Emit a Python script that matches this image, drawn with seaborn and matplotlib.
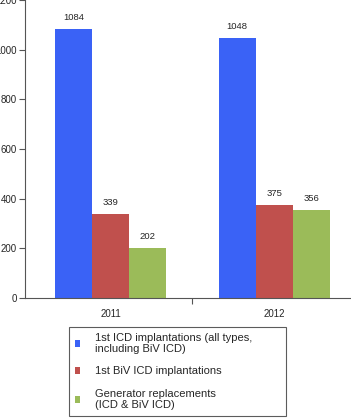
import matplotlib
matplotlib.use('Agg')
import matplotlib.pyplot as plt
import seaborn as sns
import pandas as pd

years = ['2011', '2012']
series = ['1st ICD implantations (all types,\nincluding BiV ICD)',
          '1st BiV ICD implantations',
          'Generator replacements\n(ICD & BiV ICD)']
icd_first = [1084, 1048]
biv_first = [339, 375]
gen_repl = [202, 356]
colors = ['#3a62f6', '#c0504d', '#9bbb59']

df = pd.DataFrame({
    'year': years * 3,
    'series': [series[0]] * 2 + [series[1]] * 2 + [series[2]] * 2,
    'value': icd_first + biv_first + gen_repl,
})

sns.set_style('white')
plt.rcParams['font.family'] = ['Liberation Sans', 'DejaVu Sans']

fig = plt.figure(figsize=(3.51, 4.18), dpi=100)
ax = fig.add_axes([25 / 351, 120 / 418, 326 / 351, 298 / 418])

sns.barplot(data=df, x='year', y='value', hue='series', palette=colors,
            width=0.68, gap=0, saturation=1, linewidth=0, ax=ax, legend=True)

for cont in ax.containers:
    ax.bar_label(cont, fmt='%d', padding=5, fontsize=6.8)

ax.set_ylim(0, 1200)
ax.set_yticks([0, 200, 400, 600, 800, 1000, 1200])
ax.set_xlim(-0.523, 1.47)
ax.set_xlabel('')
ax.set_ylabel('')
ax.set_xticks([0, 1])
ax.set_xticks([0.5], minor=True)
ax.tick_params(axis='x', which='major', length=0, pad=8, labelsize=7)
ax.tick_params(axis='x', which='minor', length=4, width=0.8, color='#555555', direction='out', bottom=True)
ax.tick_params(axis='y', length=4, width=0.8, color='#555555', direction='out', left=True, labelsize=7, pad=2)

for side in ['top', 'right']:
    ax.spines[side].set_visible(False)
for side in ['left', 'bottom']:
    ax.spines[side].set_color('#555555')
    ax.spines[side].set_linewidth(0.8)

handles, labels = ax.get_legend_handles_labels()
ax.legend_.remove()
leg = fig.legend(handles, labels, loc='upper left',
                 bbox_to_anchor=(69 / 351, 1 - 416 / 418, 217 / 351, 89 / 418),
                 mode='expand',
                 fontsize=8, frameon=True, fancybox=False,
                 handlelength=0.5, handleheight=0.5, handletextpad=1.3,
                 labelspacing=1.1, borderpad=0.5, borderaxespad=0)
leg.get_frame().set_edgecolor('#333333')
leg.get_frame().set_linewidth(0.8)

fig.savefig('out.png', dpi=100)
